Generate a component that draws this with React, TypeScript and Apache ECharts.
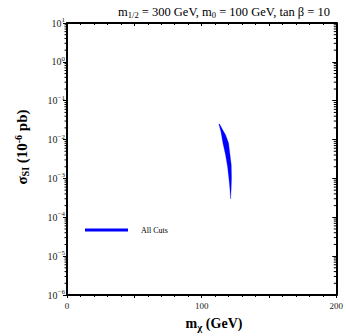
import React, { useEffect, useRef } from "react";
import * as echarts from "echarts";

const FONT = "'Liberation Serif', 'DejaVu Serif', serif";

// Region boundary (neutralino mass GeV, sigma_SI in 1e-6 pb), traced clockwise
const blobMass = [112.8, 114.4, 115.8, 117.8, 119.3, 120.4, 121.1, 121.5, 121.9, 122.2, 122.0, 121.1, 120.0, 117.8, 114.8, 113.3];
const blobSigma = [0.0251, 0.0157, 0.00817, 0.00401, 0.00197, 0.000912, 0.000501, 0.000295, 0.000501, 0.00102, 0.00224, 0.00401, 0.00817, 0.0132, 0.02, 0.0251];

const xTickLabels = [0, 100, 200];
const yMinExp = -6;
const yMaxExp = 1;
const seriesName = "All Cuts";

// minor log ticks 2..9 within each decade
const minorLogTicks: number[][] = [];
for (let e = yMinExp; e < yMaxExp; e++) {
  for (let m = 2; m <= 9; m++) minorLogTicks.push([0, m * Math.pow(10, e)]);
}

export default function App() {
  const ref = useRef<HTMLDivElement>(null);
  useEffect(() => {
    if (!ref.current) return;
    const chart = echarts.init(ref.current, undefined, { renderer: "svg" });
    const blobData = blobMass.map((m, i) => [m, blobSigma[i]]);
    const supRich = {
      b: { fontSize: 10, fontFamily: FONT, color: "#222" },
      s: { fontSize: 7, fontFamily: FONT, color: "#222", padding: [0, 0, 6, 0] },
    };
    chart.setOption({
      animation: false,
      title: {
        text: "m{sub|1/2} = 300 GeV, m{sub|0} = 100 GeV, tan β = 10",
        right: 11,
        top: 0,
        textStyle: {
          fontSize: 12.5,
          fontWeight: "normal",
          fontFamily: FONT,
          color: "#000",
          rich: {
            sub: { fontSize: 8.5, fontFamily: FONT, color: "#000", padding: [5, 0, 0, 0] },
          },
        },
      },
      legend: {
        data: [seriesName],
        left: 85,
        top: 226,
        padding: 0,
        icon: "rect",
        itemWidth: 43,
        itemHeight: 3,
        textStyle: { fontSize: 8, fontFamily: FONT, color: "#000", padding: [0, 0, 0, 8] },
      },
      graphic: [
        {
          type: "text",
          x: 22,
          y: 147,
          rotation: Math.PI / 2,
          style: {
            text: "σ{sub|SI} (10{sup|-6} pb)",
            align: "center",
            verticalAlign: "middle",
            font: "bold 15px " + FONT,
            fill: "#000",
            rich: {
              sub: { fontSize: 10, fontWeight: "bold", fontFamily: FONT, fill: "#000", padding: [7, 0, 0, 0] },
              sup: { fontSize: 10, fontWeight: "bold", fontFamily: FONT, fill: "#000", padding: [0, 0, 7, 0] },
            },
          },
        },
        {
          type: "text",
          x: 214,
          y: 323,
          style: {
            text: "m{sub|χ} (GeV)",
            align: "center",
            verticalAlign: "middle",
            font: "bold 14px " + FONT,
            fill: "#000",
            rich: {
              sub: { fontSize: 11, fontWeight: "bold", fontFamily: FONT, fill: "#000", padding: [8, 0, 0, 0] },
            },
          },
        },
      ],
      grid: { left: 67, right: 9, top: 23, bottom: 41 },
      xAxis: [
        {
          type: "value",
          min: 0,
          max: 200,
          interval: 50,
          position: "bottom",
          axisLine: { onZero: false, lineStyle: { color: "#000", width: 2 } },
          axisTick: { show: true, inside: false, length: 3, lineStyle: { color: "#000" } },
          minorTick: { show: true, splitNumber: 5, length: 2, lineStyle: { color: "#000" } },
          splitLine: { show: false },
          axisLabel: {
            fontSize: 9,
            fontFamily: FONT,
            color: "#222",
            margin: 6,
            formatter: (v: number) => (xTickLabels.includes(v) ? String(v) : ""),
          },
        },
        {
          type: "value",
          min: 0,
          max: 200,
          interval: 50,
          position: "top",
          axisLine: { onZero: false, lineStyle: { color: "#000", width: 2 } },
          axisTick: { show: true, inside: true, length: 3, lineStyle: { color: "#000" } },
          minorTick: { show: true, splitNumber: 5, length: 2, lineStyle: { color: "#000" } },
          splitLine: { show: false },
          axisLabel: { show: false },
        },
      ],
      yAxis: [
        {
          type: "log",
          logBase: 10,
          min: Math.pow(10, yMinExp),
          max: Math.pow(10, yMaxExp),
          position: "left",
          axisLine: { onZero: false, lineStyle: { color: "#000", width: 2 } },
          axisTick: { show: true, inside: false, length: 4, lineStyle: { color: "#000" } },
          splitLine: { show: false },
          axisLabel: {
            margin: 2,
            fontSize: 10,
            fontFamily: FONT,
            color: "#222",
            formatter: (v: number) => {
              const e = Math.round(Math.log10(v));
              return "{b|10}{s|" + (e < 0 ? "−" + -e : String(e)) + "}";
            },
            rich: supRich,
          },
        },
        {
          type: "log",
          logBase: 10,
          min: Math.pow(10, yMinExp),
          max: Math.pow(10, yMaxExp),
          position: "right",
          axisLine: { onZero: false, lineStyle: { color: "#000", width: 2 } },
          axisTick: { show: true, inside: true, length: 4, lineStyle: { color: "#000" } },
          splitLine: { show: false },
          axisLabel: { show: false },
        },
      ],
      series: [
        {
          name: seriesName,
          type: "custom",
          xAxisIndex: 0,
          yAxisIndex: 0,
          itemStyle: { color: "#0000ff" },
          data: blobData,
          renderItem: (params: any, api: any) => {
            if (params.dataIndex !== 0) return null;
            const pts = blobData.map((d) => api.coord(d));
            return {
              type: "polygon",
              shape: { points: pts },
              style: { fill: "#0000ff", stroke: "#0000ff", lineWidth: 0.3 },
            };
          },
        },
        {
          name: "minorTicks",
          type: "custom",
          xAxisIndex: 0,
          yAxisIndex: 0,
          silent: true,
          data: minorLogTicks,
          renderItem: (params: any, api: any) => {
            const cs = params.coordSys;
            const p = api.coord([api.value(0), api.value(1)]);
            const y = p[1];
            return {
              type: "group",
              children: [
                { type: "line", shape: { x1: cs.x - 2.5, y1: y, x2: cs.x, y2: y }, style: { stroke: "#000", lineWidth: 1 } },
                { type: "line", shape: { x1: cs.x + cs.width - 2.5, y1: y, x2: cs.x + cs.width, y2: y }, style: { stroke: "#000", lineWidth: 1 } },
              ],
            };
          },
        },
      ],
    });
    return () => chart.dispose();
  }, []);
  return <div ref={ref} style={{ width: 346, height: 336, position: "absolute", left: 0, top: 0 }} />;
}
